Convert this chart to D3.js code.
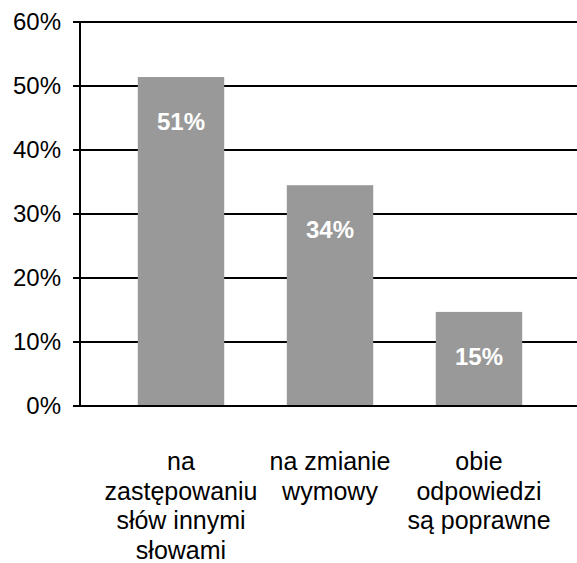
<!DOCTYPE html>
<html>
<head>
<meta charset="utf-8">
<script src="https://cdn.jsdelivr.net/npm/d3@7"></script>
<style>
  body { margin: 0; background: #fff; }
  text { font-family: "Liberation Sans", Arial, sans-serif; }
</style>
</head>
<body>
<script>
// data
const categories = [
  ["na", "zastępowaniu", "słów innymi", "słowami"],
  ["na zmianie", "wymowy"],
  ["obie", "odpowiedzi", "są poprawne"]
];
const values = [51.4, 34.5, 14.7];
const valueLabels = ["51%", "34%", "15%"];
const yTicks = [0, 10, 20, 30, 40, 50, 60];

const W = 577, H = 563;

let svg = d3.select("body")
  .append("svg")
    .attr("width", W)
    .attr("height", H);

let x = d3.scaleBand()
  .domain(d3.range(categories.length))
  .range([106.5, 553.5])
  .paddingInner(0.42)
  .paddingOuter(0.21);

let y = d3.scaleLinear()
  .domain([0, 60])
  .range([406, 22]);

// gridlines
svg.append("g")
  .selectAll("line")
  .data(yTicks)
  .join("line")
    .attr("x1", 73)
    .attr("x2", W)
    .attr("y1", d => y(d))
    .attr("y2", d => y(d))
    .attr("stroke", "#000")
    .attr("stroke-width", 2);

// y labels
svg.append("g")
  .selectAll("text")
  .data(yTicks)
  .join("text")
    .attr("x", 61)
    .attr("y", d => y(d))
    .attr("dy", "0.35em")
    .attr("text-anchor", "end")
    .attr("font-size", 24)
    .attr("fill", "#000")
    .text(d => d + "%");

// bars
svg.append("g")
  .selectAll("rect")
  .data(values)
  .join("rect")
    .attr("x", (d, i) => x(i))
    .attr("width", x.bandwidth())
    .attr("y", d => y(d))
    .attr("height", d => y(0) - y(d))
    .attr("fill", "#999999");

// baseline + y axis line on top
svg.append("line")
  .attr("x1", 73).attr("x2", W)
  .attr("y1", y(0)).attr("y2", y(0))
  .attr("stroke", "#000").attr("stroke-width", 2);

svg.append("line")
  .attr("x1", 80).attr("x2", 80)
  .attr("y1", y(60) - 1).attr("y2", y(0) + 1)
  .attr("stroke", "#000").attr("stroke-width", 2);

// value labels
svg.append("g")
  .selectAll("text")
  .data(values)
  .join("text")
    .attr("x", (d, i) => x(i) + x.bandwidth() / 2)
    .attr("y", d => y(d) + 53)
    .attr("text-anchor", "middle")
    .attr("font-size", 24)
    .attr("font-weight", "bold")
    .attr("fill", "#fff")
    .text((d, i) => valueLabels[i]);

// category labels
let cat = svg.append("g")
  .selectAll("text")
  .data(categories)
  .join("text")
    .attr("text-anchor", "middle")
    .attr("font-size", 25)
    .attr("fill", "#000");

cat.selectAll("tspan")
  .data((d, i) => d.map(t => ({ t, i })))
  .join("tspan")
    .attr("x", d => x(d.i) + x.bandwidth() / 2)
    .attr("y", (d, j) => 470 + j * 29.5)
    .text(d => d.t);
</script>
</body>
</html>
